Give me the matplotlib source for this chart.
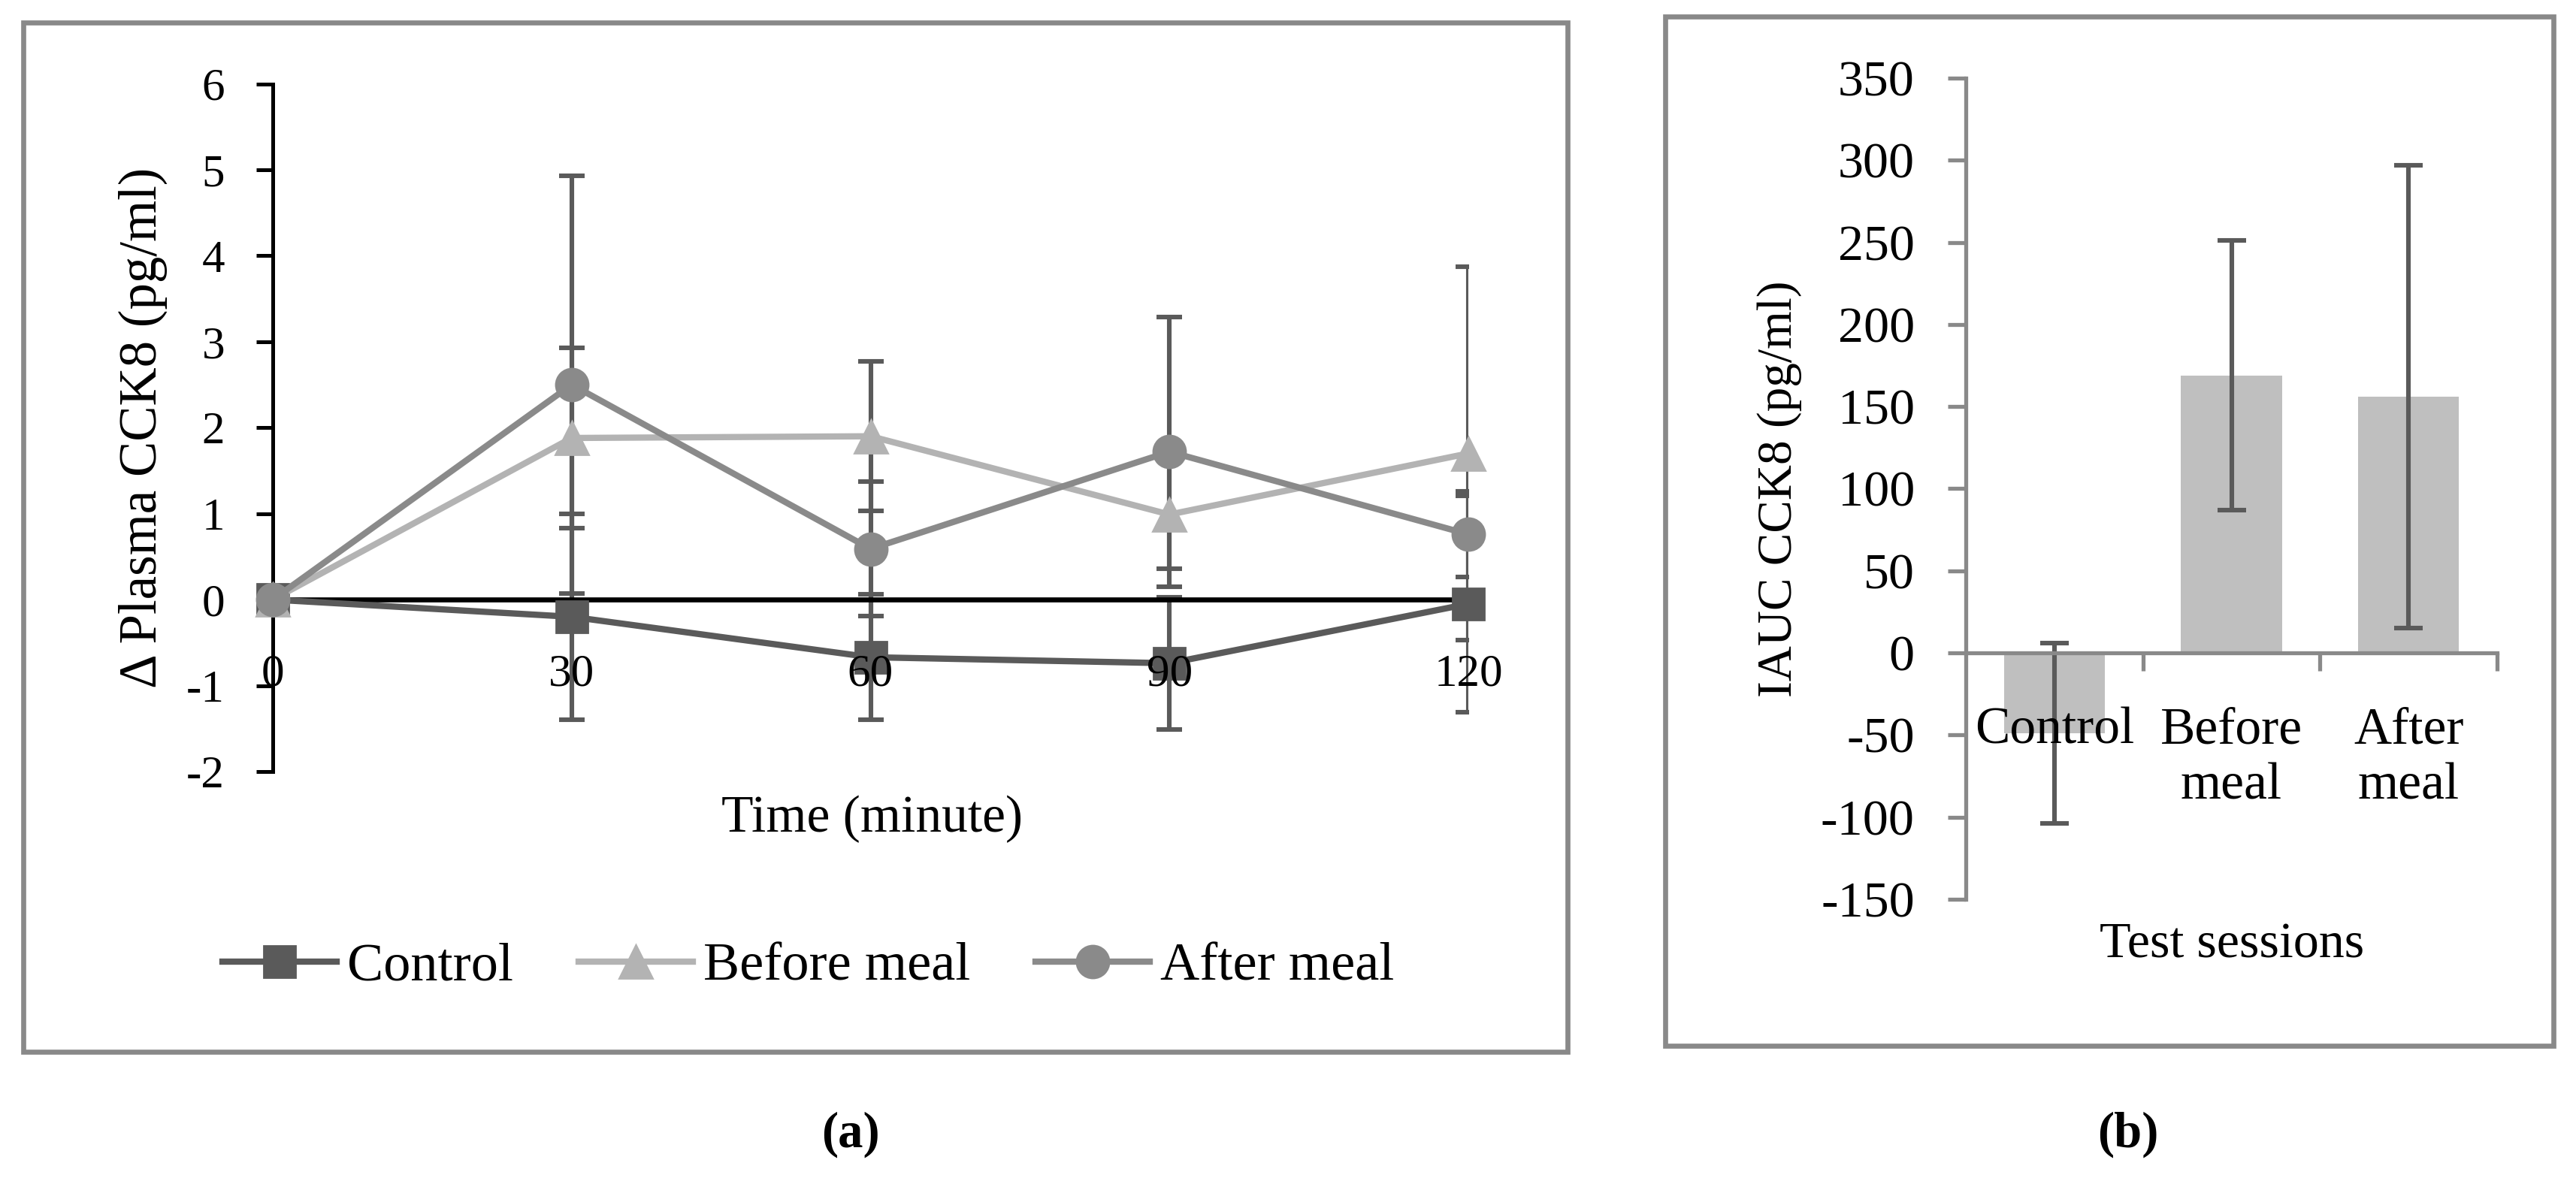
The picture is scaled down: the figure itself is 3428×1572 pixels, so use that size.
import matplotlib
matplotlib.use("Agg")
import matplotlib.pyplot as plt
from matplotlib.patches import Rectangle

plt.rcParams['font.family'] = ['Liberation Serif', 'DejaVu Serif']
plt.rcParams['axes.unicode_minus'] = False

# (a) change in plasma CCK8 over time, mean and error per session
time_min = [0, 30, 60, 90, 120]
control_mean = [0, -0.20, -0.67, -0.74, -0.05]
control_err = [0, 1.20, 0.73, 0.77, 1.26]
before_mean = [0, 1.88, 1.90, 0.99, 1.70]
before_err = [0, 1.05, 0.87, 0.63, 2.17]
after_mean = [0, 2.50, 0.59, 1.72, 0.76]
after_err = [0, 2.43, 0.78, 1.57, 0.50]

# (b) IAUC per test session
sessions = ['Control', 'Before\nmeal', 'After\nmeal']
iauc_mean = [-49, 169, 156]
iauc_err = [55, 82, 141]

W, H, DPI = 3428, 1572, 200
c_ctrl = '#5a5a5a'
c_before = '#b3b3b3'
c_after = '#8a8a8a'
c_err = '#5a5a5a'
c_frame = '#898989'
c_bar = '#bfbfbf'


def box(l, t, r, b):
    return [l / W, 1 - b / H, (r - l) / W, (b - t) / H]


fig = plt.figure(figsize=(W / DPI, H / DPI), dpi=DPI)

# outer frames of both panels
for l, t, r, b in [(31, 30, 2086, 1400), (2216, 22, 3398, 1392)]:
    x0, y0, w, h = box(l, t, r, b)
    fig.patches.append(Rectangle((x0, y0), w, h, transform=fig.transFigure,
                                 fill=False, ec=c_frame, lw=2.4))

# ---- panel (a)
ax1 = fig.add_axes(box(363, 111.5, 1954, 1027))
series = [
    ('Control', control_mean, control_err, c_ctrl, 's', 15),
    ('Before meal', before_mean, before_err, c_before, '^', 16),
    ('After meal', after_mean, after_err, c_after, 'o', 15.5),
]
for name, m, e, c, mk, ms in series:
    ax1.errorbar(time_min, m, yerr=e, fmt='none', ecolor=c_err,
                 elinewidth=2.2, capsize=6, capthick=2.2, zorder=1.5)
handles = []
for name, m, e, c, mk, ms in series:
    ln, = ax1.plot(time_min, m, color=c, lw=3, marker=mk, ms=ms,
                   mec=c, mfc=c, label=name, zorder=3, clip_on=False)
    handles.append(ln)

ax1.set_xlim(0, 120)
ax1.set_ylim(-2, 6)
ax1.set_yticks(range(-2, 7))
ax1.set_xticks(time_min)
for s in ['top', 'right']:
    ax1.spines[s].set_visible(False)
ax1.spines['bottom'].set_position(('data', 0))
ax1.spines['bottom'].set_color('black')
ax1.spines['bottom'].set_linewidth(2.4)
ax1.spines['left'].set_linewidth(1.8)
ax1.tick_params(axis='y', direction='out', length=8, width=1.8,
                labelsize=22, pad=15)
ax1.tick_params(axis='x', length=0, labelsize=22, pad=26)
ax1.xaxis.set_zorder(5)

fig.text(190 / W, 1 - 569 / H, 'Δ Plasma CCK8 (pg/ml)', rotation=90,
         ha='center', va='center', fontsize=25.5)
fig.text(1161 / W, 1 - 1090 / H, 'Time (minute)', ha='center',
         va='center', fontsize=25)
fig.legend(handles, [h.get_label() for h in handles], loc='center',
           bbox_to_anchor=(1076 / W, 1 - 1287 / H), ncol=3, frameon=False,
           fontsize=26, handlelength=2.1, handletextpad=0.2,
           columnspacing=1.2)
fig.text(1132 / W, 1 - 1510 / H, '(a)', ha='center', va='center',
         fontsize=24, fontweight='bold')

# ---- panel (b)
ax2 = fig.add_axes(box(2616, 104, 3323, 1197))
pos = list(range(len(sessions)))
ax2.bar(pos, iauc_mean, width=0.57, color=c_bar, zorder=1)
ax2.errorbar(pos, iauc_mean, yerr=iauc_err, fmt='none', ecolor=c_err,
             elinewidth=2.2, capsize=7, capthick=2.2, zorder=2)
ax2.set_xlim(-0.5, len(sessions) - 0.5)
ax2.set_ylim(-150, 350)
ax2.set_yticks(range(-150, 351, 50))
ax2.set_xticks(pos)
ax2.set_xticklabels(sessions, linespacing=1.15)
ax2.set_xticks([p + 0.5 for p in pos], minor=True)
for s in ['top', 'right']:
    ax2.spines[s].set_visible(False)
ax2.spines['bottom'].set_position(('data', 0))
for s in ['bottom', 'left']:
    ax2.spines[s].set_color(c_frame)
    ax2.spines[s].set_linewidth(1.9)
ax2.tick_params(axis='y', direction='out', length=8.5, width=1.9,
                color=c_frame, labelsize=24.5, pad=16)
ax2.tick_params(axis='x', which='major', length=0, labelsize=25, pad=26)
ax2.tick_params(axis='x', which='minor', direction='out', length=8.5,
                width=1.9, color=c_frame)
ax2.xaxis.set_zorder(5)

fig.text(2368 / W, 1 - 651 / H, 'IAUC CCK8 (pg/ml)', rotation=90,
         ha='center', va='center', fontsize=23.5)
fig.text(2970 / W, 1 - 1258 / H, 'Test sessions', ha='center',
         va='center', fontsize=24.5)
fig.text(2832 / W, 1 - 1510 / H, '(b)', ha='center', va='center',
         fontsize=24, fontweight='bold')

fig.savefig('out.png', dpi=DPI)
